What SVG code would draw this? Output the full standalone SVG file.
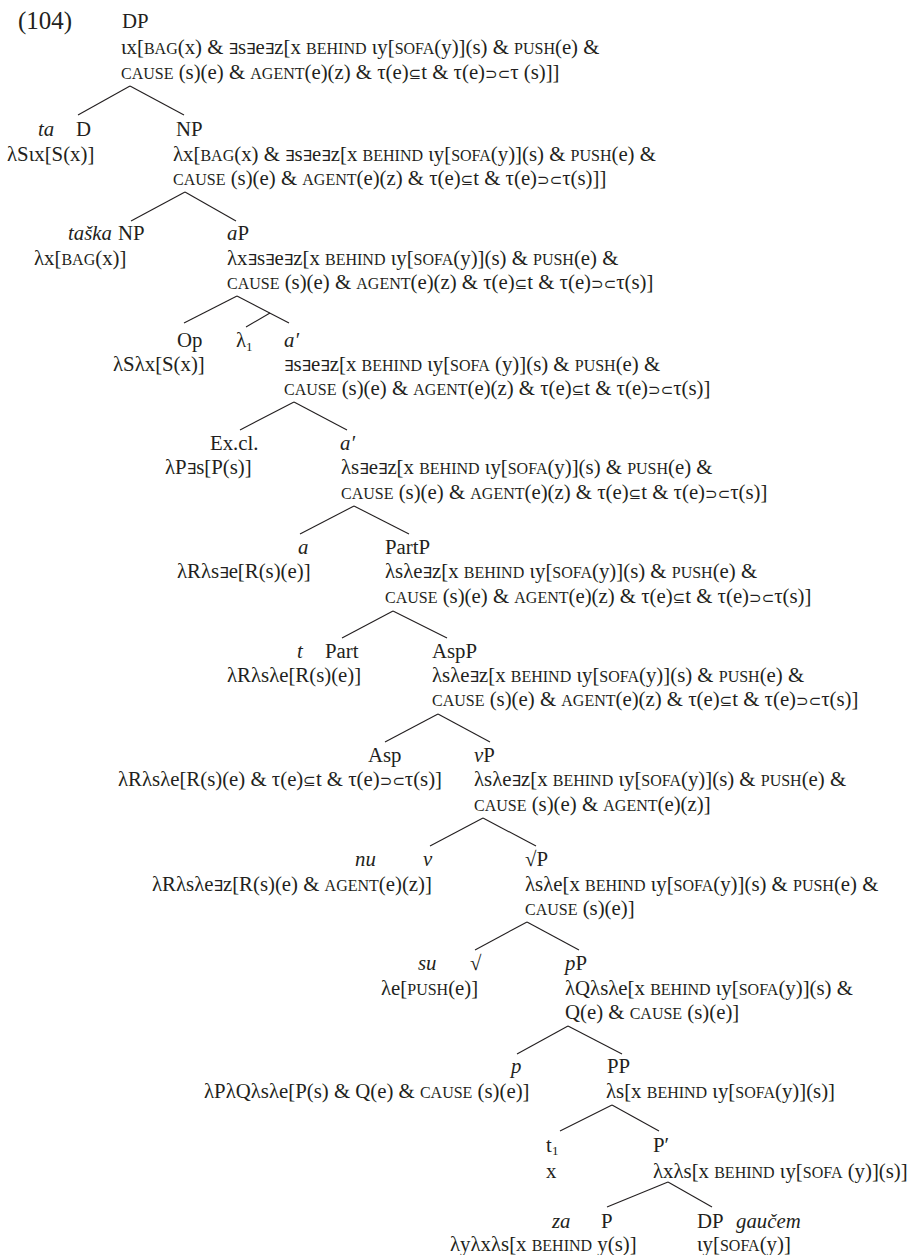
<svg xmlns="http://www.w3.org/2000/svg" width="910" height="1255" viewBox="0 0 910 1255">
<style>
text{font-family:"Liberation Serif","DejaVu Serif",serif;font-size:20.8px;fill:#231f20}
.sc{font-size:16px}
.m{font-family:"DejaVu Sans",sans-serif;font-size:15px}
.i{font-style:italic}
.ex{font-size:25px}
.sub{font-size:13px}
#connectors line{stroke:#231f20;stroke-width:1.1}
</style>
<rect width="910" height="1255" fill="#ffffff"/>
<g id="example-number"><text class="ex" x="18" y="29">(104)</text></g>
<g id="n-dp-root">
<text x="122" y="28">DP</text>
<text x="121" y="54">ιx[<tspan class="sc">BAG</tspan>(x) &amp; <tspan class="m">∃</tspan>s<tspan class="m">∃</tspan>e<tspan class="m">∃</tspan>z[x <tspan class="sc">BEHIND</tspan> ιy[<tspan class="sc">SOFA</tspan>(y)](s) &amp; <tspan class="sc">PUSH</tspan>(e) &amp;</text>
<text x="121" y="79"><tspan class="sc">CAUSE</tspan> (s)(e) &amp; <tspan class="sc">AGENT</tspan>(e)(z) &amp; τ(e)<tspan class="m">⊆</tspan>t &amp; τ(e)<tspan class="m">⊃⊂</tspan>τ (s)]]</text>
</g>
<g id="n-d">
<text x="38" y="136"><tspan class="i">ta</tspan></text>
<text x="76" y="136">D</text>
<text x="7" y="161">λSιx[S(x)]</text>
</g>
<g id="n-np1">
<text x="176" y="136">NP</text>
<text x="173" y="161">λx[<tspan class="sc">BAG</tspan>(x) &amp; <tspan class="m">∃</tspan>s<tspan class="m">∃</tspan>e<tspan class="m">∃</tspan>z[x <tspan class="sc">BEHIND</tspan> ιy[<tspan class="sc">SOFA</tspan>(y)](s) &amp; <tspan class="sc">PUSH</tspan>(e) &amp;</text>
<text x="173" y="185"><tspan class="sc">CAUSE</tspan> (s)(e) &amp; <tspan class="sc">AGENT</tspan>(e)(z) &amp; τ(e)<tspan class="m">⊆</tspan>t &amp; τ(e)<tspan class="m">⊃⊂</tspan>τ(s)]]</text>
</g>
<g id="n-np2">
<text x="68" y="240"><tspan class="i">taška</tspan></text>
<text x="118" y="240">NP</text>
<text x="34" y="265">λx[<tspan class="sc">BAG</tspan>(x)]</text>
</g>
<g id="n-ap">
<text x="227" y="240"><tspan class="i">a</tspan>P</text>
<text x="227" y="265">λx<tspan class="m">∃</tspan>s<tspan class="m">∃</tspan>e<tspan class="m">∃</tspan>z[x <tspan class="sc">BEHIND</tspan> ιy[<tspan class="sc">SOFA</tspan>(y)](s) &amp; <tspan class="sc">PUSH</tspan>(e) &amp;</text>
<text x="227" y="289"><tspan class="sc">CAUSE</tspan> (s)(e) &amp; <tspan class="sc">AGENT</tspan>(e)(z) &amp; τ(e)<tspan class="m">⊆</tspan>t &amp; τ(e)<tspan class="m">⊃⊂</tspan>τ(s)]</text>
</g>
<g id="n-op">
<text x="177" y="347">Op</text>
<text x="113" y="371">λSλx[S(x)]</text>
</g>
<g id="n-lambda1">
<text x="236" y="347">λ<tspan class="sub" dy="4">1</tspan></text>
</g>
<g id="n-abar1">
<text x="284" y="347"><tspan class="i">a′</tspan></text>
<text x="284" y="371"><tspan class="m">∃</tspan>s<tspan class="m">∃</tspan>e<tspan class="m">∃</tspan>z[x <tspan class="sc">BEHIND</tspan> ιy[<tspan class="sc">SOFA</tspan> (y)](s) &amp; <tspan class="sc">PUSH</tspan>(e) &amp;</text>
<text x="284" y="395"><tspan class="sc">CAUSE</tspan> (s)(e) &amp; <tspan class="sc">AGENT</tspan>(e)(z) &amp; τ(e)<tspan class="m">⊆</tspan>t &amp; τ(e)<tspan class="m">⊃⊂</tspan>τ(s)]</text>
</g>
<g id="n-excl">
<text x="210" y="450">Ex.cl.</text>
<text x="165" y="474">λP<tspan class="m">∃</tspan>s[P(s)]</text>
</g>
<g id="n-abar2">
<text x="340" y="450"><tspan class="i">a′</tspan></text>
<text x="341" y="474">λs<tspan class="m">∃</tspan>e<tspan class="m">∃</tspan>z[x <tspan class="sc">BEHIND</tspan> ιy[<tspan class="sc">SOFA</tspan>(y)](s) &amp; <tspan class="sc">PUSH</tspan>(e) &amp;</text>
<text x="341" y="499"><tspan class="sc">CAUSE</tspan> (s)(e) &amp; <tspan class="sc">AGENT</tspan>(e)(z) &amp; τ(e)<tspan class="m">⊆</tspan>t &amp; τ(e)<tspan class="m">⊃⊂</tspan>τ(s)]</text>
</g>
<g id="n-a">
<text x="298" y="554"><tspan class="i">a</tspan></text>
<text x="177" y="578">λRλs<tspan class="m">∃</tspan>e[R(s)(e)]</text>
</g>
<g id="n-partp">
<text x="385" y="554">PartP</text>
<text x="385" y="578">λsλe<tspan class="m">∃</tspan>z[x <tspan class="sc">BEHIND</tspan> ιy[<tspan class="sc">SOFA</tspan>(y)](s) &amp; <tspan class="sc">PUSH</tspan>(e) &amp;</text>
<text x="385" y="603"><tspan class="sc">CAUSE</tspan> (s)(e) &amp; <tspan class="sc">AGENT</tspan>(e)(z) &amp; τ(e)<tspan class="m">⊆</tspan>t &amp; τ(e)<tspan class="m">⊃⊂</tspan>τ(s)]</text>
</g>
<g id="n-part">
<text x="297" y="658"><tspan class="i">t</tspan></text>
<text x="325" y="658">Part</text>
<text x="227" y="682">λRλsλe[R(s)(e)]</text>
</g>
<g id="n-aspp">
<text x="432" y="658">AspP</text>
<text x="432" y="682">λsλe<tspan class="m">∃</tspan>z[x <tspan class="sc">BEHIND</tspan> ιy[<tspan class="sc">SOFA</tspan>(y)](s) &amp; <tspan class="sc">PUSH</tspan>(e) &amp;</text>
<text x="432" y="706"><tspan class="sc">CAUSE</tspan> (s)(e) &amp; <tspan class="sc">AGENT</tspan>(e)(z) &amp; τ(e)<tspan class="m">⊆</tspan>t &amp; τ(e)<tspan class="m">⊃⊂</tspan>τ(s)]</text>
</g>
<g id="n-asp">
<text x="368" y="762">Asp</text>
<text x="118" y="786">λRλsλe[R(s)(e) &amp; τ(e)<tspan class="m">⊆</tspan>t &amp; τ(e)<tspan class="m">⊃⊂</tspan>τ(s)]</text>
</g>
<g id="n-vp">
<text x="474" y="762"><tspan class="i">v</tspan>P</text>
<text x="474" y="786">λsλe<tspan class="m">∃</tspan>z[x <tspan class="sc">BEHIND</tspan> ιy[<tspan class="sc">SOFA</tspan>(y)](s) &amp; <tspan class="sc">PUSH</tspan>(e) &amp;</text>
<text x="474" y="811"><tspan class="sc">CAUSE</tspan> (s)(e) &amp; <tspan class="sc">AGENT</tspan>(e)(z)]</text>
</g>
<g id="n-v">
<text x="355" y="866"><tspan class="i">nu</tspan></text>
<text x="423" y="866"><tspan class="i">v</tspan></text>
<text x="152" y="891">λRλsλe<tspan class="m">∃</tspan>z[R(s)(e) &amp; <tspan class="sc">AGENT</tspan>(e)(z)]</text>
</g>
<g id="n-rootp">
<text x="525" y="866">√P</text>
<text x="525" y="891">λsλe[x <tspan class="sc">BEHIND</tspan> ιy[<tspan class="sc">SOFA</tspan>(y)](s) &amp; <tspan class="sc">PUSH</tspan>(e) &amp;</text>
<text x="525" y="915"><tspan class="sc">CAUSE</tspan> (s)(e)]</text>
</g>
<g id="n-root">
<text x="418" y="970"><tspan class="i">su</tspan></text>
<text x="470" y="970">√</text>
<text x="381" y="995">λe[<tspan class="sc">PUSH</tspan>(e)]</text>
</g>
<g id="n-pp-small">
<text x="565" y="970"><tspan class="i">p</tspan>P</text>
<text x="565" y="995">λQλsλe[x <tspan class="sc">BEHIND</tspan> ιy[<tspan class="sc">SOFA</tspan>(y)](s) &amp;</text>
<text x="565" y="1019">Q(e) &amp; <tspan class="sc">CAUSE</tspan> (s)(e)]</text>
</g>
<g id="n-p-small">
<text x="511" y="1073"><tspan class="i">p</tspan></text>
<text x="204" y="1098">λPλQλsλe[P(s) &amp; Q(e) &amp; <tspan class="sc">CAUSE</tspan> (s)(e)]</text>
</g>
<g id="n-pp">
<text x="607" y="1073">PP</text>
<text x="606" y="1098">λs[x <tspan class="sc">BEHIND</tspan> ιy[<tspan class="sc">SOFA</tspan>(y)](s)]</text>
</g>
<g id="n-t1">
<text x="546" y="1152">t</text>
<text class="sub" x="552" y="1155">1</text>
<text x="546" y="1178">x</text>
</g>
<g id="n-pbar">
<text x="653" y="1152">P′</text>
<text x="653" y="1178">λxλs[x <tspan class="sc">BEHIND</tspan> ιy[<tspan class="sc">SOFA</tspan> (y)](s)]</text>
</g>
<g id="n-p">
<text x="552" y="1228"><tspan class="i">za</tspan></text>
<text x="601" y="1228">P</text>
<text x="450" y="1251">λyλxλs[x <tspan class="sc">BEHIND</tspan>  y(s)]</text>
</g>
<g id="n-dp-sofa">
<text x="697" y="1228">DP</text>
<text x="736" y="1228"><tspan class="i">gaučem</tspan></text>
<text x="697" y="1251">ιy[<tspan class="sc">SOFA</tspan>(y)]</text>
</g>
<g id="connectors">
<line x1="130" y1="86" x2="78" y2="115"/>
<line x1="130" y1="86" x2="184" y2="115"/>
<line x1="185" y1="192" x2="131" y2="221"/>
<line x1="185" y1="192" x2="236" y2="221"/>
<line x1="237" y1="296" x2="184" y2="323"/>
<line x1="237" y1="296" x2="289" y2="323"/>
<line x1="270" y1="313.1" x2="246" y2="327"/>
<line x1="294" y1="402" x2="240" y2="430"/>
<line x1="294" y1="402" x2="347" y2="430"/>
<line x1="354" y1="506" x2="300" y2="534"/>
<line x1="354" y1="506" x2="409" y2="534"/>
<line x1="393" y1="611" x2="342" y2="638"/>
<line x1="393" y1="611" x2="447" y2="638"/>
<line x1="438" y1="714" x2="385" y2="742"/>
<line x1="438" y1="714" x2="490" y2="742"/>
<line x1="483" y1="818" x2="430" y2="846"/>
<line x1="483" y1="818" x2="536" y2="846"/>
<line x1="527" y1="922" x2="475" y2="950"/>
<line x1="527" y1="922" x2="579" y2="950"/>
<line x1="568" y1="1026" x2="517" y2="1054"/>
<line x1="568" y1="1026" x2="622" y2="1054"/>
<line x1="612" y1="1105" x2="560" y2="1131"/>
<line x1="612" y1="1105" x2="659" y2="1131"/>
<line x1="668" y1="1182" x2="607" y2="1207"/>
<line x1="668" y1="1182" x2="712" y2="1207"/>
</g>
</svg>
